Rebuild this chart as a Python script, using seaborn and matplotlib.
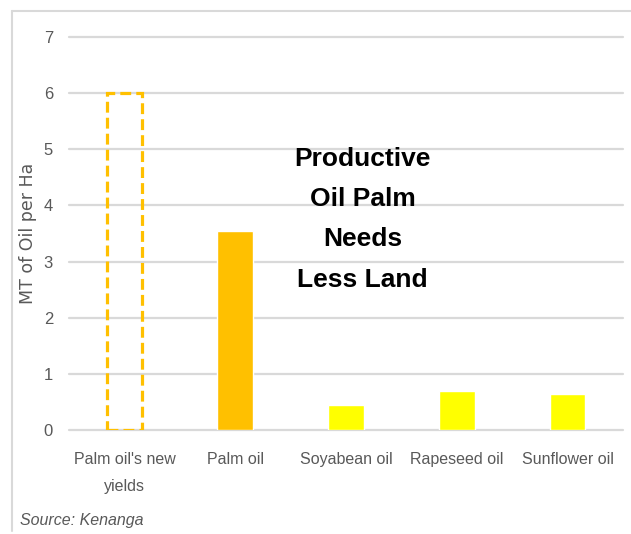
import matplotlib
matplotlib.use("Agg")
import matplotlib.pyplot as plt
from matplotlib.lines import Line2D
import seaborn as sns
import pandas as pd

categories = ["Palm oil's new\nyields", "Palm oil", "Soyabean oil", "Rapeseed oil", "Sunflower oil"]
values = [6.0, 3.55, 0.45, 0.69, 0.64]
colors = ["#FFC000", "#FFC000", "#FFFF00", "#FFFF00", "#FFFF00"]
yticks = [0, 1, 2, 3, 4, 5, 6, 7]
annotation = "Productive\nOil Palm\nNeeds\nLess Land"
ylabel = "MT of Oil per Ha"
source = "Source: Kenanga"

sns.set_theme(style="white")
plt.rcParams['font.family'] = ["Liberation Sans", 'DejaVu Sans']

df = pd.DataFrame({"cat": categories, "val": values})

fig = plt.figure(figsize=(6.31, 5.34), dpi=100)
ax = fig.add_axes([69/631, 1-430/534, (623-69)/631, (430-37)/534])
sns.barplot(data=df, x="cat", y="val", hue="cat", palette=colors, legend=False,
            width=0.32, ax=ax, saturation=1)

p0 = ax.patches[0]
p0.set_facecolor("none")
p0.set_edgecolor("#FFC000")
p0.set_linewidth(2.3)
p0.set_linestyle((0, (3.4, 1.6)))
p0.set_zorder(3)

ax.set_ylim(0, 7)
ax.set_yticks(yticks)
ax.yaxis.grid(True, color="#D9D9D9", linewidth=1.6)
for gl in ax.get_ygridlines():
    gl.set_clip_on(False)
ax.set_axisbelow(True)
for s in ax.spines.values():
    s.set_visible(False)
ax.tick_params(axis="both", length=0, colors="#595959")
ax.tick_params(axis="y", pad=11.5, labelsize=12)
ax.tick_params(axis="x", pad=16, labelsize=11.5)
for lab in ax.get_xticklabels():
    lab.set_linespacing(1.95)
ax.set_xlabel("")
ax.set_ylabel(ylabel, color="#595959", fontsize=12.5, family="DejaVu Sans")
ax.yaxis.set_label_coords((37-69)/554, 0.5)
ax.set_xlim(-0.5, 4.5)

ax.text(2.15, 5.045, annotation, ha="center", va="top", fontsize=19, fontweight="bold",
        color="black", linespacing=1.86, transform=ax.transData)

fig.text(20/631, 1-520/534, source, ha="left", va="center", fontsize=11.5,
         style="italic", color="#595959")

fig.add_artist(Line2D([12/631, 1.0], [1-11/534, 1-11/534], transform=fig.transFigure,
                      color="#D9D9D9", linewidth=1.5))
fig.add_artist(Line2D([12/631, 12/631], [1-11/534, 1-531/534], transform=fig.transFigure,
                      color="#D9D9D9", linewidth=1.5))

fig.savefig("out.png", dpi=100)
